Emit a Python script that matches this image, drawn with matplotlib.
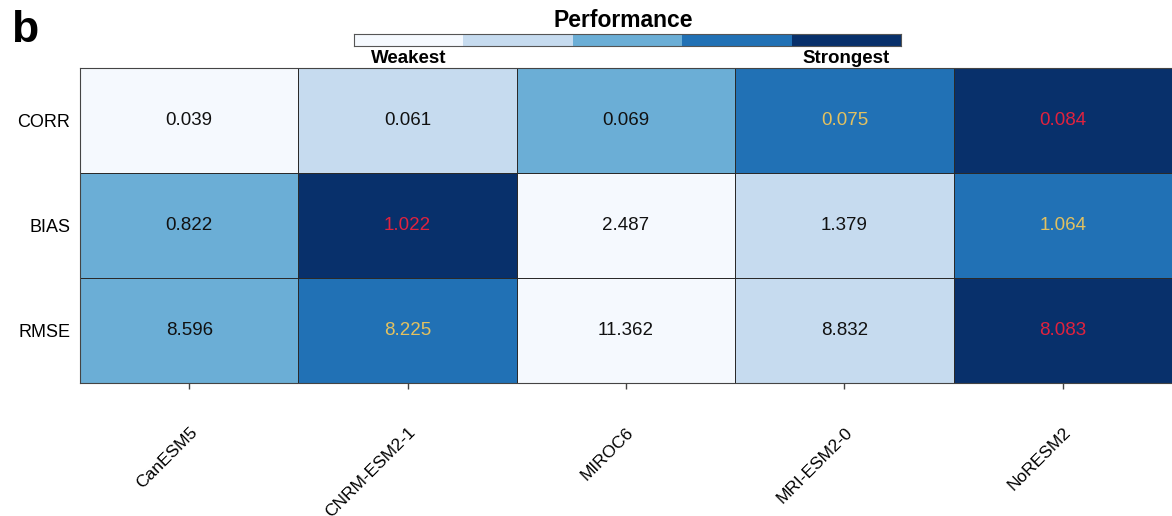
import numpy as np
import matplotlib.pyplot as plt
from matplotlib.colors import ListedColormap, BoundaryNorm

plt.rcParams['font.family'] = ['Liberation Sans', 'DejaVu Sans']

models = ["CanESM5", "CNRM-ESM2-1", "MIROC6", "MRI-ESM2-0", "NoRESM2"]
metrics = ["CORR", "BIAS", "RMSE"]
corr = [0.039, 0.061, 0.069, 0.075, 0.084]
bias = [0.822, 1.022, 2.487, 1.379, 1.064]
rmse = [8.596, 8.225, 11.362, 8.832, 8.083]

level_colors = ["#f5f9fe", "#c6dbef", "#6baed6", "#2171b5", "#08306b"]

values = np.array([corr, bias, rmse])

# score each metric so that larger means better, then rank 1..5
scores = np.array([values[0], -np.abs(values[1] - 1.0), -values[2]])
ranks = scores.argsort(axis=1).argsort(axis=1) + 1

cmap = ListedColormap(level_colors)
norm = BoundaryNorm(np.arange(0.5, 6.5, 1), cmap.N)

fig = plt.figure(figsize=(11.72, 5.16), dpi=100)
ax = fig.add_axes([0.0683, 0.2578, 0.9317, 0.6104])

ax.pcolormesh(ranks, cmap=cmap, norm=norm, edgecolors="#2a2a2a", linewidth=0.6)
ax.set_xlim(0, len(models))
ax.set_ylim(len(metrics), 0)

for i in range(len(metrics)):
    for j in range(len(models)):
        r = ranks[i, j]
        if r == 5:
            c = "#e0223e"
        elif r == 4:
            c = "#e3c160"
        else:
            c = "#111111"
        ax.text(j + 0.5, i + 0.5, f"{values[i, j]:.3f}", ha="center", va="center",
                fontsize=13.5, color=c)

ax.set_xticks(np.arange(len(models)) + 0.5)
ax.set_xticklabels(models, rotation=45, ha="right", rotation_mode="anchor", fontsize=12.5)
ax.tick_params(axis="x", length=4, width=1, color="#444444", pad=26)
ax.set_yticks(np.arange(len(metrics)) + 0.5)
ax.set_yticklabels(metrics, fontsize=13)
ax.tick_params(axis="y", length=0, pad=7)
for s in ax.spines.values():
    s.set_color("#444444")
    s.set_linewidth(0.8)
ax.spines["right"].set_visible(False)

# discrete performance bar
cax = fig.add_axes([0.302, 0.911, 0.4667, 0.0233])
cax.imshow(np.arange(1, 6)[None, :], cmap=cmap, norm=norm, aspect="auto",
           extent=[0, 5, 0, 1])
cax.set_xticks([])
cax.set_yticks([])
for s in cax.spines.values():
    s.set_color("#555555")
    s.set_linewidth(0.8)
cax.text(2.46, 1.12, "Performance", ha="center", va="bottom", fontsize=16.5,
         fontweight="bold")
cax.text(0.5, -0.35, "Weakest", ha="center", va="top", fontsize=13.5,
         fontweight="bold")
cax.text(4.5, -0.35, "Strongest", ha="center", va="top", fontsize=13.5,
         fontweight="bold")

fig.text(0.009, 0.98, "b", fontsize=32, fontweight="bold", ha="left", va="top")

fig.savefig("out.png", dpi=100)
